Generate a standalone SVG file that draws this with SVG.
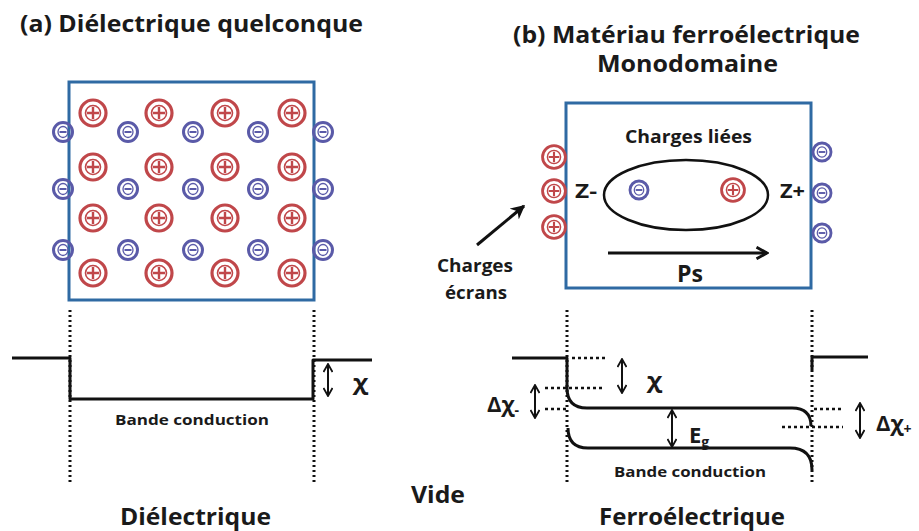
<svg xmlns="http://www.w3.org/2000/svg" xmlns:xlink="http://www.w3.org/1999/xlink" width="919" height="531" viewBox="0 0 919 531">
<style>
text{font-family:"Open Sans","DejaVu Sans",sans-serif;font-weight:bold;fill:#1a1a1a}
.box{fill:none;stroke:#2f6aa3;stroke-width:3}
.band{fill:none;stroke:#111;stroke-width:3;stroke-linejoin:round}
.dot{fill:none;stroke:#111;stroke-width:3;stroke-dasharray:2 3}
.hdot{fill:none;stroke:#111;stroke-width:2.5;stroke-dasharray:3 3}
.dbl{fill:none;stroke:#111;stroke-width:2;marker-start:url(#ch);marker-end:url(#ch)}
.pring{fill:none;stroke:#c0474a;stroke-width:3.2}
.pin{fill:none;stroke:#c0474a;stroke-width:1.6}
.mring{fill:none;stroke:#5a5aa8;stroke-width:3}
.min{fill:none;stroke:#5a5aa8;stroke-width:1.3}
</style>
<defs>
<marker id="ch" viewBox="0 0 10 10" refX="9" refY="5" markerWidth="10" markerHeight="10" markerUnits="userSpaceOnUse" orient="auto-start-reverse">
<path d="M1,0.5 L9,5 L1,9.5" fill="none" stroke="#111" stroke-width="1.8"/>
</marker>
<marker id="ah" viewBox="0 0 12 12" refX="10" refY="6" markerWidth="14" markerHeight="14" markerUnits="userSpaceOnUse" orient="auto">
<path d="M1,1 L10,6 L1,11" fill="none" stroke="#111" stroke-width="2.4"/>
</marker>
<marker id="ahf" viewBox="0 0 10 10" refX="9" refY="5" markerWidth="14" markerHeight="14" markerUnits="userSpaceOnUse" orient="auto">
<path d="M0,0 L10,5 L0,10 L3,5 Z" fill="#111"/>
</marker>
<g id="plus">
<circle r="13" class="pring"/>
<circle r="7.5" class="pin"/>
<path d="M-6,0 H6 M0,-6 V6" stroke="#c0474a" stroke-width="2.4"/>
</g>
<g id="minus">
<circle r="9.5" class="mring"/>
<ellipse rx="5" ry="5.5" class="min"/>
<path d="M-3.5,0 H3.5" stroke="#5a5aa8" stroke-width="2"/>
</g>
</defs>

<g id="titles">
<text x="20" y="32" font-size="23" textLength="343" lengthAdjust="spacingAndGlyphs">(a) Diélectrique quelconque</text>
<text x="513" y="43" font-size="23" textLength="347" lengthAdjust="spacingAndGlyphs">(b) Matériau ferroélectrique</text>
<text x="597" y="72" font-size="23" textLength="181" lengthAdjust="spacingAndGlyphs">Monodomaine</text>
</g>

<g id="dielectric-box">
<rect x="69" y="82" width="245" height="218" class="box"/>
<use href="#plus" x="93" y="113"/><use href="#plus" x="159" y="113"/><use href="#plus" x="225" y="113"/><use href="#plus" x="292" y="113"/>
<use href="#plus" x="93" y="167"/><use href="#plus" x="159" y="167"/><use href="#plus" x="225" y="167"/><use href="#plus" x="292" y="167"/>
<use href="#plus" x="93" y="218"/><use href="#plus" x="159" y="218"/><use href="#plus" x="225" y="218"/><use href="#plus" x="292" y="218"/>
<use href="#plus" x="93" y="273"/><use href="#plus" x="159" y="273"/><use href="#plus" x="225" y="273"/><use href="#plus" x="292" y="273"/>
<use href="#minus" x="63" y="132"/><use href="#minus" x="128" y="132"/><use href="#minus" x="193" y="132"/><use href="#minus" x="258" y="132"/><use href="#minus" x="323" y="132"/>
<use href="#minus" x="63" y="189"/><use href="#minus" x="128" y="189"/><use href="#minus" x="193" y="189"/><use href="#minus" x="258" y="189"/><use href="#minus" x="323" y="189"/>
<use href="#minus" x="63" y="250"/><use href="#minus" x="128" y="250"/><use href="#minus" x="193" y="250"/><use href="#minus" x="258" y="250"/><use href="#minus" x="323" y="250"/>
</g>

<g id="ferro-box">
<rect x="566" y="103" width="245" height="185" class="box"/>
<use href="#plus" transform="translate(554,157) scale(0.88)"/>
<use href="#plus" transform="translate(554,191) scale(0.88)"/>
<use href="#plus" transform="translate(554,227) scale(0.88)"/>
<use href="#minus" transform="translate(822,152) scale(0.95)"/>
<use href="#minus" transform="translate(822,193) scale(0.95)"/>
<use href="#minus" transform="translate(822,233) scale(0.95)"/>
<text x="625" y="143" font-size="17" textLength="127" lengthAdjust="spacingAndGlyphs">Charges liées</text>
<ellipse cx="686" cy="195" rx="82" ry="35" fill="none" stroke="#111" stroke-width="2.5"/>
<use href="#minus" transform="translate(639,190) scale(0.95)"/>
<use href="#plus" transform="translate(733,190) scale(0.88)"/>
<text x="575" y="198" font-size="20" textLength="22" lengthAdjust="spacingAndGlyphs">Z-</text>
<text x="780" y="198" font-size="20" textLength="25" lengthAdjust="spacingAndGlyphs">Z+</text>
<text x="677" y="282" font-size="24" textLength="26" lengthAdjust="spacingAndGlyphs">Ps</text>
</g>

<g id="screen-label">
<text x="437" y="272" font-size="17" textLength="76" lengthAdjust="spacingAndGlyphs">Charges</text>
<text x="445" y="299" font-size="17" textLength="62" lengthAdjust="spacingAndGlyphs">écrans</text>
</g>

<g id="connectors">
<line x1="608" y1="253" x2="767" y2="253" stroke="#111" stroke-width="3" marker-end="url(#ah)"/>
<line x1="477" y1="245" x2="524" y2="206" stroke="#111" stroke-width="3" marker-end="url(#ahf)"/>
</g>

<g id="band-a">
<line x1="70" y1="310" x2="70" y2="484" class="dot"/>
<line x1="314" y1="310" x2="314" y2="484" class="dot"/>
<path d="M12,358 H70 V399 H313 V360 H372" class="band"/>
<line x1="328" y1="364" x2="328" y2="396" class="dbl"/>
<text x="353" y="390" font-size="21" textLength="15" lengthAdjust="spacingAndGlyphs">χ</text>
<text x="115" y="425" font-size="15" textLength="154" lengthAdjust="spacingAndGlyphs">Bande conduction</text>
</g>

<g id="band-b">
<line x1="567" y1="310" x2="567" y2="484" class="dot"/>
<line x1="812" y1="310" x2="812" y2="484" class="dot"/>
<path d="M512,358 H567 V388 Q567,408 587,408 H792 Q811,408 811,426" class="band"/>
<path d="M568,428 Q568,448 588,448 H790 Q812,448 812,470" class="band"/>
<path d="M868,357 H812 V370" class="band"/>
<line x1="572" y1="358" x2="605" y2="358" class="hdot"/>
<line x1="545" y1="388" x2="605" y2="388" class="hdot"/>
<line x1="545" y1="409" x2="566" y2="409" class="hdot"/>
<line x1="814" y1="409" x2="843" y2="409" class="hdot"/>
<line x1="782" y1="427" x2="843" y2="427" class="hdot"/>
<line x1="622" y1="359" x2="622" y2="393" class="dbl"/>
<line x1="535" y1="385" x2="535" y2="418" class="dbl"/>
<line x1="672" y1="410" x2="672" y2="447" class="dbl"/>
<line x1="860" y1="403" x2="860" y2="438" class="dbl"/>
<text x="647" y="388" font-size="21" textLength="15" lengthAdjust="spacingAndGlyphs">χ</text>
<text x="487" y="412" font-size="22">Δχ<tspan font-size="14" dy="3">-</tspan></text>
<text x="876" y="431" font-size="22">Δχ<tspan font-size="14" dy="3">+</tspan></text>
<text x="689" y="443" font-size="22">E<tspan font-size="14" dy="4">g</tspan></text>
<text x="614" y="477" font-size="15" textLength="152" lengthAdjust="spacingAndGlyphs">Bande conduction</text>
</g>

<g id="bottom-labels">
<text x="120" y="525" font-size="23" textLength="151" lengthAdjust="spacingAndGlyphs">Diélectrique</text>
<text x="411" y="503" font-size="23" textLength="54" lengthAdjust="spacingAndGlyphs">Vide</text>
<text x="599" y="525" font-size="23" textLength="186" lengthAdjust="spacingAndGlyphs">Ferroélectrique</text>
</g>
</svg>
